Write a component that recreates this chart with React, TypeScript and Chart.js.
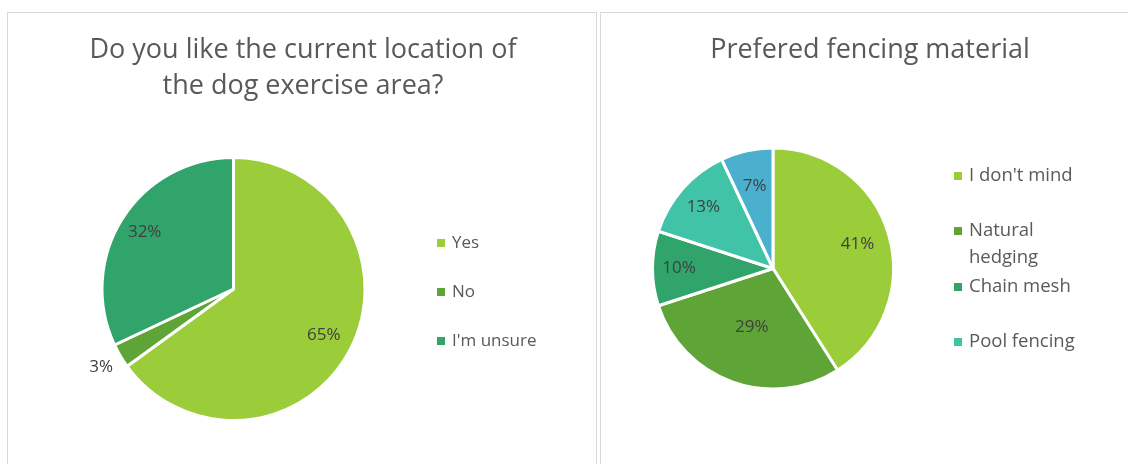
import React, { useEffect, useRef } from 'react';
import { Chart, registerables } from 'chart.js';

Chart.register(...registerables);

// ---------- data ----------
const locationTitle = ['Do you like the current location of', 'the dog exercise area?'];
const locationCategories = ['Yes', 'No', "I'm unsure"];
const locationValues = [65, 3, 32];

const fencingTitle = ['Prefered fencing material'];
const fencingCategories = ["I don't mind", 'Natural hedging', 'Chain mesh', 'Pool fencing', 'Other'];
const fencingValues = [41, 29, 10, 13, 7];
const fencingLegendShown = 4;

// ---------- styles ----------
const locationColors = ['#9BCD3A', '#5FA437', '#30A46B'];
const fencingColors = ['#9BCD3A', '#5FA437', '#30A46B', '#40C3A6', '#4AB0CE'];
const FONT = '"Open Sans", Lato, sans-serif';

type PanelCfg = {
  title: string[];
  titleX: number;
  titleY: number;
  titleGap: number;
  labels: string[];
  values: number[];
  colors: string[];
  labelFactor: number[];
  legendLines: string[][];
  legendX: number;
  legendY: number[];
  legendSize: number;
  padding: { left: number; right: number; top: number; bottom: number };
  width: number;
  height: number;
};

const splitLegend = (s: string) => (s === 'Natural hedging' ? ['Natural', 'hedging'] : [s]);

const leftCfg: PanelCfg = {
  title: locationTitle,
  titleX: 295,
  titleY: 45,
  titleGap: 36,
  labels: locationCategories,
  values: locationValues,
  colors: locationColors,
  labelFactor: [0.77, 1.17, 0.8],
  legendLines: locationCategories.map(splitLegend),
  legendX: 429,
  legendY: [230, 279, 328],
  legendSize: 17,
  padding: { left: 92.5, right: 229.5, top: 143, bottom: 42 },
  width: 588,
  height: 451,
};

const rightCfg: PanelCfg = {
  title: fencingTitle,
  titleX: 269,
  titleY: 45,
  titleGap: 36,
  labels: fencingCategories,
  values: fencingValues,
  colors: fencingColors,
  labelFactor: [0.73, 0.52, 0.78, 0.77, 0.7],
  legendLines: fencingCategories.slice(0, fencingLegendShown).map(splitLegend),
  legendX: 353,
  legendY: [163, 218, 274, 329],
  legendSize: 18.5,
  padding: { left: 50, right: 264, top: 133.5, bottom: 73.5 },
  width: 558,
  height: 451,
};

function PiePanel({ cfg, left, top, boxW }: { cfg: PanelCfg; left: number; top: number; boxW: number }) {
  const ref = useRef<HTMLCanvasElement | null>(null);
  useEffect(() => {
    if (!ref.current) return;
    const total = cfg.values.reduce((a, b) => a + b, 0);
    const decor = {
      id: 'decor',
      afterDatasetsDraw(chart: any) {
        const ctx = chart.ctx;
        ctx.save();
        // title
        ctx.fillStyle = '#595959';
        ctx.font = `27px ${FONT}`;
        ctx.textAlign = 'center';
        ctx.textBaseline = 'alphabetic';
        cfg.title.forEach((t, i) => ctx.fillText(t, cfg.titleX, cfg.titleY + i * cfg.titleGap));
        // data labels
        ctx.textBaseline = 'middle';
        const meta = chart.getDatasetMeta(0);
        ctx.font = `17px ${FONT}`;
        ctx.fillStyle = '#404040';
        meta.data.forEach((arc: any, i: number) => {
          const p = arc.getProps(['x', 'y', 'startAngle', 'endAngle', 'outerRadius'], true);
          const mid = (p.startAngle + p.endAngle) / 2;
          const r = p.outerRadius * cfg.labelFactor[i];
          const pct = Math.round((cfg.values[i] / total) * 100);
          ctx.fillText(`${pct}%`, p.x + Math.cos(mid) * r, p.y + Math.sin(mid) * r);
        });
        // legend
        ctx.textAlign = 'left';
        ctx.font = `${cfg.legendSize}px ${FONT}`;
        cfg.legendLines.forEach((lines, i) => {
          const y = cfg.legendY[i];
          ctx.fillStyle = cfg.colors[i];
          ctx.fillRect(cfg.legendX, y - 4, 8, 8);
          ctx.fillStyle = '#595959';
          lines.forEach((ln, j) => ctx.fillText(ln, cfg.legendX + 15, y + j * 27));
        });
        ctx.restore();
      },
    };
    const chart = new Chart(ref.current, {
      type: 'pie',
      data: {
        labels: cfg.labels,
        datasets: [
          {
            data: cfg.values,
            backgroundColor: cfg.colors,
            borderColor: '#ffffff',
            borderWidth: 3,
          },
        ],
      },
      options: {
        responsive: false,
        animation: false,
        layout: { padding: cfg.padding },
        plugins: {
          legend: { display: false },
          title: { display: false },
          tooltip: { enabled: false },
        },
      },
      plugins: [decor],
    });
    return () => chart.destroy();
  }, [cfg]);
  return (
    <div
      style={{
        position: 'absolute',
        left,
        top,
        width: boxW,
        height: 470,
        border: '1px solid #D9D9D9',
        boxSizing: 'border-box',
        background: '#fff',
        overflow: 'hidden',
      }}
    >
      <canvas
        ref={ref}
        width={cfg.width}
        height={cfg.height}
        style={{ display: 'block', width: cfg.width, height: cfg.height }}
      />
    </div>
  );
}

export default function App() {
  return (
    <div
      style={{
        position: 'absolute',
        left: 0,
        top: 0,
        width: 1128,
        height: 464,
        overflow: 'hidden',
        background: '#fff',
      }}
    >
      <PiePanel cfg={leftCfg} left={7} top={12} boxW={590} />
      <PiePanel cfg={rightCfg} left={600} top={12} boxW={560} />
    </div>
  );
}
